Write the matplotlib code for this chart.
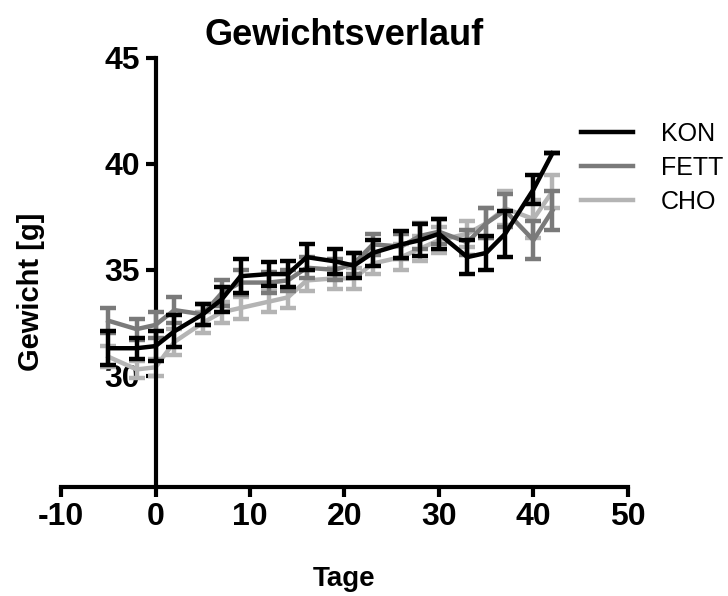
import matplotlib
matplotlib.use("Agg")
from matplotlib import pyplot as plt

# Days and mean body weight [g] per group, with error (SEM)
days = [-5, -2, 0, 2, 5, 7, 9, 12, 14, 16, 19, 21, 23, 26, 28, 30, 33, 35, 37, 40, 42]

kon = [31.3, 31.3, 31.4, 32.1, 32.9, 33.6, 34.7, 34.8, 34.8, 35.6, 35.4,
       35.2, 35.8, 36.2, 36.4, 36.7, 35.6, 35.8, 36.7, 38.8, 40.5]
kon_err = [0.8, 0.5, 0.7, 0.75, 0.5, 0.6, 0.8, 0.55, 0.6, 0.6, 0.6,
           0.6, 0.6, 0.65, 0.75, 0.7, 0.8, 0.8, 1.1, 0.7, 0.0]

fett = [32.6, 32.2, 32.4, 33.1, 32.9, 33.9, 34.4, 34.4, 34.5, 35.1, 35.0,
        35.3, 36.2, 36.1, 36.6, 36.8, 36.3, 37.2, 37.8, 36.4, 37.8]
fett_err = [0.6, 0.5, 0.6, 0.6, 0.5, 0.6, 0.6, 0.5, 0.5, 0.5, 0.5,
            0.5, 0.5, 0.6, 0.6, 0.6, 0.6, 0.7, 0.8, 0.9, 0.9]

cho = [30.9, 30.3, 30.4, 31.6, 32.5, 33.0, 33.2, 33.5, 33.7, 34.5, 34.6,
       34.6, 35.3, 35.6, 36.0, 36.4, 36.7, 37.2, 37.9, 37.4, 38.7]
cho_err = [0.5, 0.4, 0.4, 0.6, 0.5, 0.5, 0.5, 0.5, 0.5, 0.5, 0.5,
           0.5, 0.5, 0.6, 0.6, 0.6, 0.6, 0.7, 0.8, 0.9, 0.8]

labels = ["KON", "FETT", "CHO"]
colors = ["#000000", "#7a7a7a", "#b4b4b4"]

plt.rcParams['font.family'] = ['Liberation Sans', 'DejaVu Sans']
plt.rcParams['axes.unicode_minus'] = False

fig = plt.figure(figsize=(7.28, 5.96), dpi=100)
ax = fig.add_axes([0.0838, 0.1829, 0.7788, 0.7198])

series = [(cho, cho_err), (fett, fett_err), (kon, kon_err)]
for i, (vals, errs) in enumerate(series):
    idx = 2 - i
    ax.errorbar(days, vals, yerr=errs, color=colors[idx], lw=3.2,
                elinewidth=3.2, capsize=6, capthick=3.2, zorder=2 + i)

# legend, placed in figure coords
handles = [plt.Line2D([], [], color=c, lw=3.2) for c in colors]
ax.legend(handles, labels, loc='upper left', bbox_to_anchor=(0.798, 0.795),
          bbox_transform=fig.transFigure, borderaxespad=0, borderpad=0,
          frameon=False, fontsize=18, handlelength=2.1, handletextpad=1.1,
          labelspacing=0.4)

ax.set_xlim(-10, 50)
ax.set_ylim(24.75, 45)
ax.set_xticks([-10, 0, 10, 20, 30, 40, 50])
ax.set_yticks([30, 35, 40, 45])

ax.spines['left'].set_position(('data', 0))
ax.spines['right'].set_visible(False)
ax.spines['top'].set_visible(False)
for sp in ('left', 'bottom'):
    ax.spines[sp].set_linewidth(3)
ax.tick_params(width=3, length=7, labelsize=23, direction='out', pad=4)
for t in ax.get_xticklabels() + ax.get_yticklabels():
    t.set_fontweight('bold')

ax.set_title("Gewichtsverlauf", fontsize=26, fontweight='bold', pad=9)
ax.set_xlabel("Tage", fontsize=20, fontweight='bold', labelpad=24)
fig.text(0.042, 0.51, "Gewicht [g]", rotation=90, fontsize=21,
         fontweight='bold', ha='center', va='center')

fig.savefig("out.png", dpi=100)
